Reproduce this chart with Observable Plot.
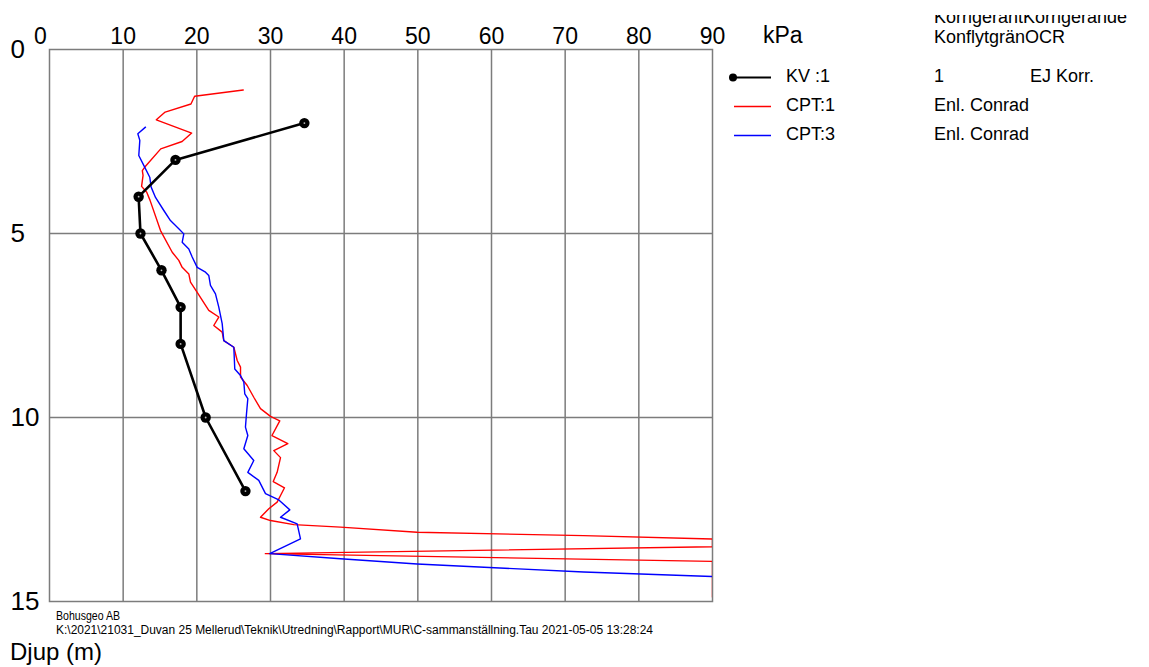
<!DOCTYPE html>
<html>
<head>
<meta charset="utf-8">
<script src="https://cdn.jsdelivr.net/npm/d3@7"></script>
<script src="https://cdn.jsdelivr.net/npm/@observablehq/plot@0.6"></script>
<style>
  html, body { margin: 0; padding: 0; background: #fff; }
  #wrap { position: relative; width: 1149px; height: 667px; overflow: hidden; font-family: "Liberation Sans", Arial, sans-serif; }
  #wrap > svg { position: absolute; left: 0; top: 0; }
</style>
</head>
<body>
<div id="wrap"></div>
<script>
// ---- data ----
const kpaTicks = [0, 10, 20, 30, 40, 50, 60, 70, 80, 90];
const depthTicks = [0, 5, 10, 15];

const kvDepth = [2, 3, 4, 5, 6, 7, 8, 10, 12];
const kvValue = [34.6, 17.1, 12.1, 12.35, 15.2, 17.8, 17.8, 21.2, 26.6];

const cpt1Depth = [1.10, 1.27, 1.48, 1.70, 1.91, 2.27, 2.50, 2.70, 3.18, 3.29, 3.42, 3.72, 3.88, 4.10,
  4.92, 5.51, 5.73, 5.92, 6.10, 6.32, 6.60, 7.09, 7.27, 7.50, 7.68, 7.91, 8.09, 8.45, 8.63, 8.90,
  9.13, 9.45, 9.76, 9.97, 10.09, 10.49, 10.71, 10.90, 11.09, 11.49, 11.74, 11.91, 12.12, 12.30,
  12.48, 12.71, 12.80, 12.91, 12.98, 13.12, 13.21, 13.30, 13.51, 13.70, 13.91, 14.88];
const cpt1Value = [26.3, 19.7, 19.2, 15.7, 14.5, 19.3, 18.0, 15.1, 13.0, 12.6, 12.7, 12.5, 13.2, 13.65,
  15.07, 16.66, 17.55, 18.01, 18.91, 19.14, 20.05, 21.62, 22.98, 22.30, 23.44, 23.66, 25.02, 25.48, 25.93, 25.93,
  26.84, 27.73, 28.64, 30.0, 31.26, 30.2, 32.35, 30.45, 31.36, 30.9, 30.37, 31.9, 31.36, 30.9,
  29.77, 28.64, 30.0, 33.16, 39.5, 49.9, 72.5, 90, 90, 29.3, 90, 90];

const cpt3Depth = [2.11, 2.29, 2.47, 2.88, 3.15, 3.47, 3.74, 4.02, 4.375, 4.65, 4.87, 5.01, 5.24, 5.42,
  5.64, 5.92, 6.05, 6.14, 6.41, 6.64, 7.00, 7.45, 7.91, 8.09, 8.68, 8.86, 9.04, 9.36, 9.49, 9.90,
  10.26, 10.49, 10.85, 11.17, 11.49, 11.71, 12.07, 12.24, 12.51, 12.71, 12.89, 13.30, 13.70, 13.84,
  13.98, 14.20, 14.32];
const cpt3Value = [13.03, 11.99, 12.26, 12.12, 12.80, 13.61, 13.80, 14.39, 15.52, 16.42, 17.55, 18.23, 18.01, 18.91,
  19.37, 20.05, 21.18, 21.62, 21.85, 22.53, 22.98, 23.44, 23.66, 25.02, 25.15, 25.93, 26.38, 26.51, 26.92, 26.74,
  26.6, 26.92, 26.38, 27.73, 26.92, 28.41, 29.32, 31.13, 32.62, 31.36, 33.62, 34.07, 29.9, 39.5,
  49.9, 72.5, 90];

const legendNames = ["KV :1", "CPT:1", "CPT:3"];
const legendColors = ["#000000", "#ff0000", "#0000ff"];
const legendCol2 = ["1", "Enl. Conrad", "Enl. Conrad"];
const legendCol3 = ["EJ Korr.", "", ""];
const headerLines = ["KorrigerantKorrigerande", "KonflytgränOCR"];
const unitLabel = "kPa";
const yTitle = "Djup (m)";
const footerLines = ["Bohusgeo AB",
  "K:\\2021\\21031_Duvan 25 Mellerud\\Teknik\\Utredning\\Rapport\\MUR\\C-sammanställning.Tau  2021-05-05 13:28:24"];

const kv = kvDepth.map((d, i) => ({d, v: kvValue[i]}));
const cpt1 = cpt1Depth.map((d, i) => ({d, v: cpt1Value[i]}));
const cpt3 = cpt3Depth.map((d, i) => ({d, v: cpt3Value[i]}));

const W = 1149, H = 667;
const gridColor = "#7c7c7c";
const font = "Liberation Sans, Arial, sans-serif";

const chart = Plot.plot({
  width: W, height: H,
  marginLeft: 49, marginRight: 437, marginTop: 49, marginBottom: 66,
  style: {fontFamily: font, color: "#000", background: "transparent"},
  x: {domain: [0, 90], axis: null},
  y: {domain: [0, 15], reverse: true, axis: null},
  marks: [
    Plot.gridX(kpaTicks.slice(1, -1), {stroke: gridColor, strokeOpacity: 1, strokeWidth: 1.5}),
    Plot.gridY(depthTicks.slice(1, -1), {stroke: gridColor, strokeOpacity: 1, strokeWidth: 1.5}),
    Plot.frame({stroke: gridColor, strokeWidth: 1.5}),
    Plot.line(cpt1, {x: "v", y: "d", stroke: "#ff0000", strokeWidth: 1.4, clip: true}),
    Plot.line(cpt3, {x: "v", y: "d", stroke: "#0000ff", strokeWidth: 1.4, clip: true}),
    Plot.line(kv, {x: "v", y: "d", stroke: "#000", strokeWidth: 2.6}),
    Plot.dot(kv, {x: "v", y: "d", r: 5.2, fill: "#000"}),
    Plot.dot(kv, {x: "v", y: "d", r: 0.9, fill: "#bbb"}),
    Plot.axisX(kpaTicks.slice(0, 1), {anchor: "top", tickSize: 0, tickPadding: 6, fontSize: 23, dx: -9, label: null}),
    Plot.axisX(kpaTicks.slice(1), {anchor: "top", tickSize: 0, tickPadding: 6, fontSize: 23, label: null}),
    Plot.axisY(depthTicks, {anchor: "left", tickSize: 0, tickPadding: 39, textAnchor: "start", fontSize: 26, label: null})
  ]
});
document.getElementById("wrap").appendChild(chart);

// ---- overlay texts and legend ----
const ov = d3.select("#wrap").append("svg")
  .attr("width", W).attr("height", H)
  .style("font-family", font);

ov.append("text").attr("x", 763).attr("y", 43).attr("font-size", 23).text(unitLabel);

ov.append("clipPath").attr("id", "hdrclip")
  .append("rect").attr("x", 900).attr("y", 15).attr("width", 249).attr("height", 40);
const hdr = ov.append("g").attr("clip-path", "url(#hdrclip)");
hdr.append("text").attr("x", 934).attr("y", 22.5).attr("font-size", 18).text(headerLines[0]);
hdr.append("text").attr("x", 934).attr("y", 43).attr("font-size", 18).text(headerLines[1]);

const rowY = [82, 111, 140];
legendNames.forEach((name, i) => {
  const ly = rowY[i] - 4.5;
  ov.append("line").attr("x1", 734).attr("x2", 771).attr("y1", ly).attr("y2", ly)
    .attr("stroke", legendColors[i]).attr("stroke-width", i === 0 ? 2 : 1.5);
  if (i === 0) ov.append("circle").attr("cx", 733).attr("cy", ly).attr("r", 4).attr("fill", "#000");
  ov.append("text").attr("x", 786).attr("y", rowY[i]).attr("font-size", 18).text(name);
  ov.append("text").attr("x", 934).attr("y", rowY[i]).attr("font-size", 18).text(legendCol2[i]);
  if (legendCol3[i]) ov.append("text").attr("x", 1030).attr("y", rowY[i]).attr("font-size", 18).text(legendCol3[i]);
});

ov.append("text").attr("x", 56).attr("y", 620).attr("font-size", 12)
  .attr("textLength", 64).attr("lengthAdjust", "spacingAndGlyphs").text(footerLines[0]);
ov.append("text").attr("x", 56).attr("y", 634).attr("font-size", 12)
  .attr("textLength", 597).attr("lengthAdjust", "spacingAndGlyphs").text(footerLines[1]);
ov.append("text").attr("x", 10).attr("y", 660).attr("font-size", 24).text(yTitle);
</script>
</body>
</html>
